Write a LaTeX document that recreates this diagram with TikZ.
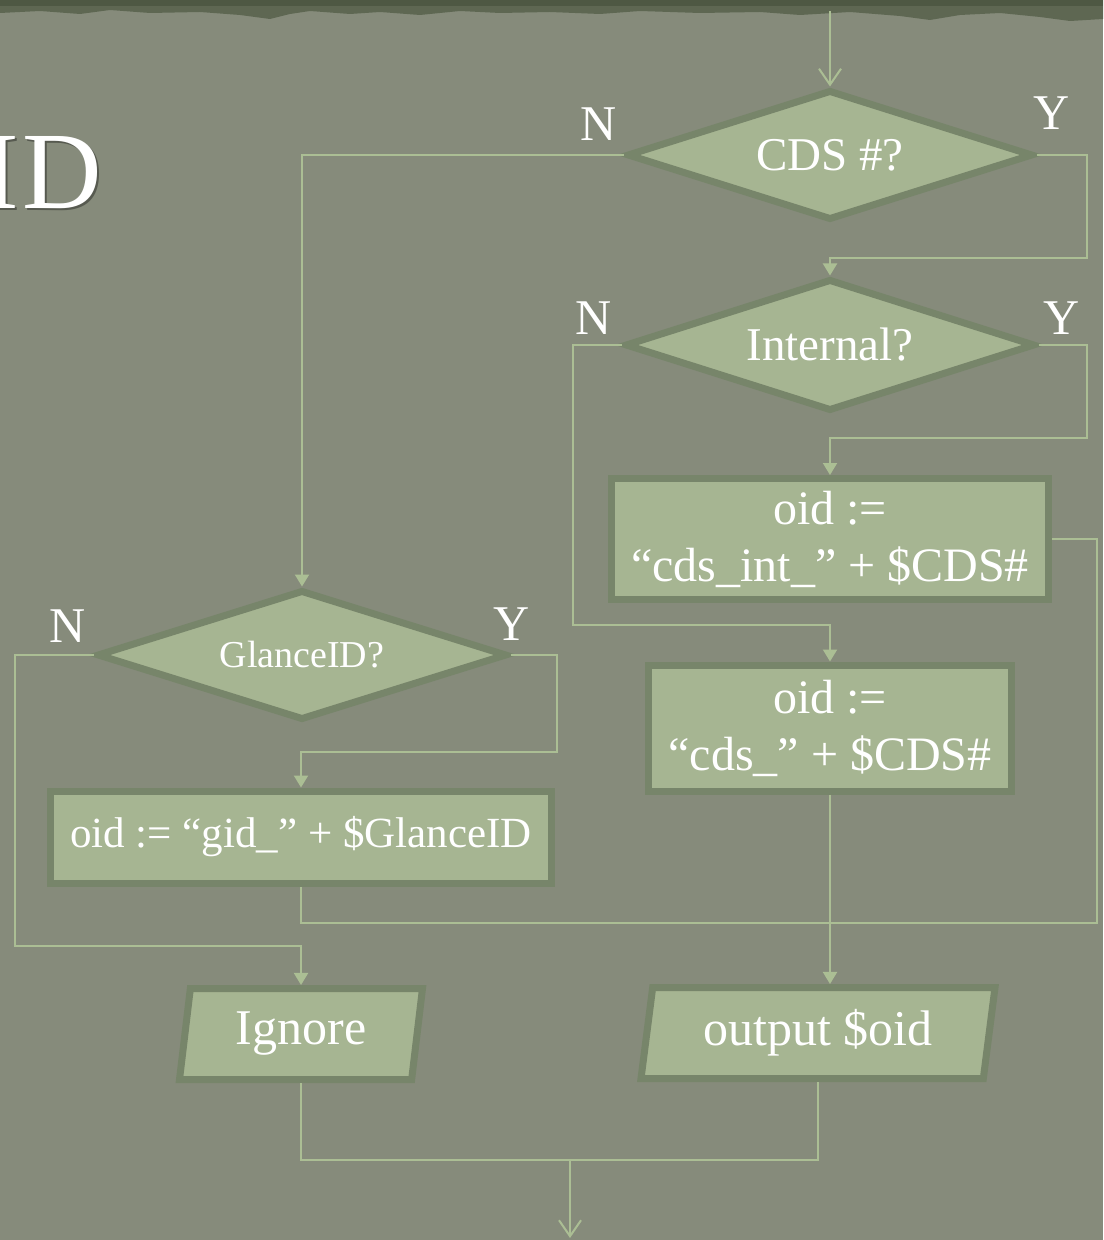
\documentclass[tikz,border=0pt]{standalone}
\usepackage{fontspec}
\setmainfont{Liberation Serif}
\usetikzlibrary{shapes.geometric,arrows.meta}
\definecolor{bg}{HTML}{868B7B}
\definecolor{strip}{HTML}{5E6752}
\definecolor{stripdark}{HTML}{4E5843}
\definecolor{shapefill}{HTML}{A6B592}
\definecolor{shapeborder}{HTML}{77856A}
\definecolor{conncol}{HTML}{ABBE94}
\tikzset{
  decision/.style={diamond, draw=shapeborder, fill=shapefill, line width=3.5pt,
    text=white, inner sep=0pt, aspect=3.44, font=\fontsize{23.5}{28}\selectfont},
  procbox/.style={rectangle, draw=shapeborder, fill=shapefill, line width=3.5pt,
    text=white, inner sep=0pt, align=center, font=\fontsize{24}{28.5}\selectfont},
  iobox/.style={trapezium, trapezium left angle=76, trapezium right angle=104,
    trapezium stretches body, draw=shapeborder, fill=shapefill, line width=3.5pt,
    text=white, inner sep=0pt, font=\fontsize{25}{30}\selectfont},
  conn/.style={draw=conncol, line width=1pt},
  connarrow/.style={conn, -{Triangle[width=7pt,length=6pt]}},
  openarrow/.style={conn, -{Straight Barb[width=11pt,length=8pt]}},
  ynlabel/.style={text=white, font=\fontsize{25}{30}\selectfont, inner sep=0pt},
}
\begin{document}
\begin{tikzpicture}[x=0.5pt,y=-0.5pt]
\useasboundingbox (0,0) rectangle (1103,1240);
\clip (0,0) rectangle (1103,1240);
\fill[bg] (0,0) rectangle (1103,1240);
% ragged top strip
\fill[strip] (0,0) -- (1103,0) -- (1103,19) -- (1070,21) -- (1040,17) -- (1000,13)
  -- (960,15) -- (930,20) -- (900,16) -- (850,12) -- (800,15) -- (760,12) -- (700,13)
  -- (640,11) -- (600,14) -- (550,12) -- (500,13) -- (460,11) -- (420,15) -- (380,12)
  -- (350,14) -- (310,11) -- (290,14) -- (270,19) -- (240,15) -- (200,12) -- (150,13)
  -- (110,10) -- (80,14) -- (40,11) -- (0,13) -- cycle;
\fill[stripdark] (0,0) rectangle (1103,6);

% title fragment
\node[anchor=base east, text=black, opacity=0.35, font=\fontsize{55}{60}\selectfont, inner sep=0pt] (titleshadow) at (104,211) {I\kern1.5pt D};
\node[anchor=base east, text=white, font=\fontsize{55}{60}\selectfont, inner sep=0pt] (title) at (102,209) {I\kern1.5pt D};

% shapes
\node[decision, minimum width=203pt, minimum height=65pt] (cds) at (830,155) {CDS \#?};
\node[decision, minimum width=205pt, minimum height=66pt] (internal) at (830,345) {Internal?};
\node[procbox, minimum width=218.5pt, minimum height=60.5pt] (cdsint) at (830,539) {oid :=\\“cds\_int\_” + \$CDS\#};
\node[procbox, minimum width=181.5pt, minimum height=63pt] (cdsplain) at (830,728) {oid :=\\“cds\_” + \$CDS\#};
\node[decision, aspect=3.47, minimum width=205pt, minimum height=65pt, font=\fontsize{19}{23}\selectfont] (glance) at (302,655) {GlanceID?};
\node[procbox, minimum width=250.5pt, minimum height=46pt, font=\fontsize{21.5}{26}\selectfont] (gid) at (301,837) {oid := “gid\_” + \$GlanceID};
\node[iobox, minimum width=121.5pt, minimum height=45.5pt] (ignore) at (301,1034) {Ignore};
\node[iobox, minimum width=177pt, minimum height=45.5pt] (output) at (818,1033) {output \$oid};

% labels
\node[ynlabel] (n1) at (599,124) {N};
\node[ynlabel] (y1) at (1052,113) {Y};
\node[ynlabel] (n2) at (594,318) {N};
\node[ynlabel] (y2) at (1062,318) {Y};
\node[ynlabel] (n3) at (68,626) {N};
\node[ynlabel] (y3) at (512,624) {Y};

% bend coordinates
\coordinate (start) at (830,11);
\coordinate (b1) at (1087,258);
\coordinate (b2) at (573,625);
\coordinate (b3) at (1087,438);
\coordinate (b4) at (1097,923);
\coordinate (b5) at (15,946);
\coordinate (b6) at (557,752);
\coordinate (join) at (570,1160);
\coordinate (exit) at (570,1238);

% connectors
\draw[openarrow] (start) -- (cds.north);
\draw[connarrow] (cds.west) -| (glance.north);
\draw[connarrow] (cds.east) -| (b1) -| (internal.north);
\draw[connarrow] (internal.west) -| (b2) -| (cdsplain.north);
\draw[connarrow] (internal.east) -| (b3) -| (cdsint.north);
\draw[conn] (cdsint.east) -| (b4) -| (gid.south);
\draw[connarrow] (cdsplain.south) -- (cdsplain.south |- output.north);
\draw[connarrow] (glance.west) -| (b5) -| (ignore.north);
\draw[connarrow] (glance.east) -| (b6) -| (gid.north);
\draw[conn] (ignore.south) |- (join) -| (output.south);
\draw[openarrow] (join) -- (exit);
\end{tikzpicture}
\end{document}
